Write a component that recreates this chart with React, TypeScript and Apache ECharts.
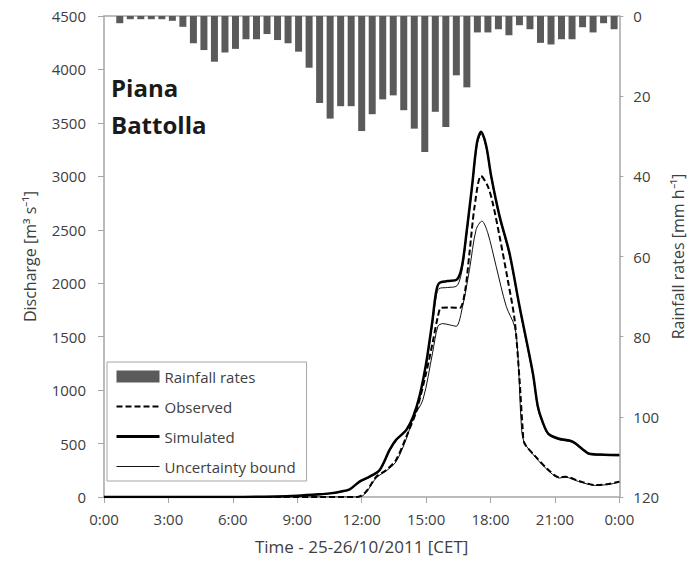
import React, { useEffect, useRef } from "react";
import * as echarts from "echarts";

// Rainfall rates (mm/h), half-hourly bars, 0:00 .. 24:00 categories
const rainCategories = Array.from({ length: 49 }, (_, i) => `${Math.floor(i / 2)}:${i % 2 ? "30" : "00"}`);
const rainRates = [
  0, 1.8, 0.8, 0.8, 0.8, 0.8, 1.2, 2.7, 6.8, 8.5, 11.4, 9.1, 8.2, 5.8, 5.8, 4.5, 6.0, 6.8, 8.9, 12.9,
  21.7, 25.6, 22.5, 22.5, 28.7, 24.5, 20.8, 19.8, 23.5, 28.1, 33.9, 23.9, 27.7, 14.8, 17.8, 4.1, 4.1,
  3.3, 4.8, 2.3, 3.3, 6.7, 7.1, 5.8, 5.8, 2.8, 4.1, 1.8, 3.3,
];

// Discharge (m3/s) vs time (hours since 25/10 0:00)
const observedTime = [0, 6, 11.8, 12.2, 12.68, 13.15, 13.6, 14.08, 14.54, 15.0, 15.3, 15.55, 15.7, 16.1, 16.56, 16.8, 17.02, 17.26, 17.56, 17.87, 18.1, 18.42, 18.8, 19.12, 19.35, 19.5, 19.58, 20.1, 20.7, 21.2, 21.5, 22.1, 22.9, 23.5, 24];
const observedQ = [0, 0, 0, 50, 190, 253, 347, 565, 800, 1159, 1440, 1690, 1769, 1772, 1769, 1909, 2284, 2722, 3003, 2909, 2753, 2440, 2034, 1659, 1100, 628, 503, 378, 253, 184, 190, 150, 112, 122, 144];

const simulatedTime = [0, 6, 8, 9, 10, 10.5, 11, 11.44, 11.9, 12.37, 12.84, 13.3, 13.6, 14.08, 14.4, 14.7, 15.0, 15.3, 15.45, 15.6, 16.0, 16.43, 16.67, 16.9, 17.14, 17.37, 17.56, 17.8, 18.03, 18.42, 18.88, 19.35, 19.97, 20.2, 20.43, 20.7, 21.2, 21.8, 22.3, 22.6, 23.3, 24];
const simulatedQ = [0, 0, 5, 12, 25, 34, 50, 72, 144, 190, 253, 440, 534, 628, 753, 950, 1250, 1659, 1900, 2000, 2020, 2034, 2159, 2503, 2909, 3316, 3416, 3284, 3003, 2628, 2284, 1784, 1160, 850, 700, 590, 545, 520, 445, 405, 396, 392];

const upperBoundTime = simulatedTime;
const upperBoundQ = [0, 0, 3, 8, 20, 30, 45, 68, 138, 185, 248, 430, 525, 620, 745, 940, 1230, 1620, 1850, 1950, 1960, 1975, 2120, 2470, 2880, 3290, 3395, 3265, 2985, 2610, 2265, 1765, 1140, 830, 690, 580, 535, 512, 438, 398, 390, 386];

const lowerBoundTime = [0, 6, 11.9, 12.2, 12.68, 13.15, 13.6, 14.08, 14.4, 14.85, 15.3, 15.55, 15.78, 16.1, 16.4, 16.7, 17.02, 17.33, 17.6, 17.87, 18.26, 18.73, 19.12, 19.27, 19.42, 19.55, 20.1, 20.7, 21.2, 21.5, 22.1, 22.9, 23.5, 24];
const lowerBoundQ = [0, 0, 0, 40, 180, 245, 330, 545, 740, 909, 1347, 1597, 1622, 1610, 1597, 1784, 2128, 2503, 2581, 2472, 2159, 1784, 1597, 1347, 722, 520, 370, 245, 178, 185, 145, 108, 118, 138];

const timeTicks = [0, 3, 6, 9, 12, 15, 18, 21, 24];

const pairs = (t: number[], q: number[]) => t.map((x, i) => [x, q[i]]);

const FONT = "Open Sans";
const AXIS_GRAY = "#a6a6a6";
const TEXT = "#404040";

export default function App() {
  const ref = useRef<HTMLDivElement>(null);
  useEffect(() => {
    if (!ref.current) return;
    const chart = echarts.init(ref.current, undefined, { renderer: "svg" });
    chart.setOption({
      animation: false,
      backgroundColor: "#fff",
      textStyle: { fontFamily: FONT },
      title: {
        text: "Piana\nBattolla",
        left: 106,
        top: 64,
        textStyle: { fontFamily: FONT, fontSize: 24, fontWeight: "bold", lineHeight: 37, color: "#1a1a1a" },
      },
      grid: { left: 104, right: 73, top: 16, bottom: 68, containLabel: false },
      legend: {
        orient: "vertical",
        left: 107,
        top: 362,
        padding: [7, 11, 7, 8],
        itemWidth: 43,
        itemHeight: 12,
        itemGap: 15,
        backgroundColor: "#fff",
        borderColor: AXIS_GRAY,
        borderWidth: 1,
        textStyle: { fontFamily: FONT, fontSize: 15, color: TEXT, padding: [0, 0, 0, 0] },
        data: [
          { name: "Rainfall rates", icon: "rect" },
          { name: "Observed", itemStyle: { opacity: 0 }, lineStyle: { width: 2, type: [6, 3], color: "#000" } },
          { name: "Simulated", itemStyle: { opacity: 0 }, lineStyle: { width: 3, color: "#000" } },
          { name: "Uncertainty bound", itemStyle: { opacity: 0 }, lineStyle: { width: 1, color: "#111" } },
        ],
      },
      xAxis: [
        {
          type: "value",
          min: 0,
          max: 24,
          interval: 3,
          position: "bottom",
          name: "Time - 25-26/10/2011 [CET]",
          nameLocation: "middle",
          nameGap: 41,
          nameTextStyle: { fontFamily: FONT, fontSize: 17, color: TEXT },
          axisLine: { show: true, lineStyle: { color: AXIS_GRAY, width: 1.5 } },
          axisTick: { show: true, length: 6, lineStyle: { color: AXIS_GRAY } },
          axisLabel: {
            fontFamily: FONT,
            fontSize: 15,
            color: TEXT,
            margin: 14,
            formatter: (v: number) => (timeTicks.includes(v) ? `${v % 24}:00` : ""),
          },
          splitLine: { show: false },
        },
        {
          type: "category",
          data: rainCategories,
          position: "top",
          boundaryGap: true,
          axisLine: { show: true, lineStyle: { color: AXIS_GRAY, width: 1.5 } },
          axisTick: { show: false },
          axisLabel: { show: false },
          splitLine: { show: false },
        },
      ],
      yAxis: [
        {
          type: "value",
          min: 0,
          max: 4500,
          interval: 500,
          position: "left",
          name: "Discharge [m³ s⁻¹]",
          nameLocation: "middle",
          nameRotate: 90,
          nameGap: 66,
          nameTextStyle: { fontFamily: FONT, fontSize: 16, color: TEXT },
          axisLine: { show: true, lineStyle: { color: AXIS_GRAY, width: 1.5 } },
          axisTick: { show: true, length: 6, lineStyle: { color: AXIS_GRAY } },
          axisLabel: { fontFamily: FONT, fontSize: 15, color: TEXT, margin: 18, formatter: (v: number) => String(v) },
          splitLine: { show: false },
        },
        {
          type: "value",
          min: 0,
          max: 120,
          interval: 20,
          inverse: true,
          position: "right",
          name: "Rainfall rates [mm h⁻¹]",
          nameLocation: "middle",
          nameRotate: 90,
          nameGap: 50,
          nameTextStyle: { fontFamily: FONT, fontSize: 16, color: TEXT },
          axisLine: { show: true, lineStyle: { color: AXIS_GRAY, width: 1.5 } },
          axisTick: { show: true, length: 4, lineStyle: { color: AXIS_GRAY } },
          axisLabel: { fontFamily: FONT, fontSize: 15, color: TEXT, margin: 14, formatter: (v: number) => String(v) },
          splitLine: { show: false },
        },
      ],
      series: [
        {
          name: "Rainfall rates",
          type: "bar",
          xAxisIndex: 1,
          yAxisIndex: 1,
          data: rainRates,
          barWidth: 7,
          itemStyle: { color: "#5a5a5a" },
          z: 1,
        },
        {
          name: "Uncertainty bound",
          type: "line",
          xAxisIndex: 0,
          yAxisIndex: 0,
          data: pairs(upperBoundTime, upperBoundQ),
          symbol: "none",
          smooth: 0.3,
          lineStyle: { color: "#111", width: 1 },
          itemStyle: { color: "#111" },
          z: 3,
        },
        {
          name: "Uncertainty bound",
          type: "line",
          xAxisIndex: 0,
          yAxisIndex: 0,
          data: pairs(lowerBoundTime, lowerBoundQ),
          symbol: "none",
          smooth: 0.3,
          lineStyle: { color: "#111", width: 1 },
          itemStyle: { color: "#111" },
          z: 3,
        },
        {
          name: "Observed",
          type: "line",
          xAxisIndex: 0,
          yAxisIndex: 0,
          data: pairs(observedTime, observedQ),
          symbol: "none",
          smooth: 0.3,
          lineStyle: { color: "#000", width: 2, type: [6, 3] },
          itemStyle: { color: "#000" },
          z: 4,
        },
        {
          name: "Simulated",
          type: "line",
          xAxisIndex: 0,
          yAxisIndex: 0,
          data: pairs(simulatedTime, simulatedQ),
          symbol: "none",
          smooth: 0.3,
          lineStyle: { color: "#000", width: 2.5 },
          itemStyle: { color: "#000" },
          z: 5,
        },
      ],
    });
    return () => chart.dispose();
  }, []);
  return <div ref={ref} style={{ width: 694, height: 565, position: "absolute", left: 0, top: 0 }} />;
}
